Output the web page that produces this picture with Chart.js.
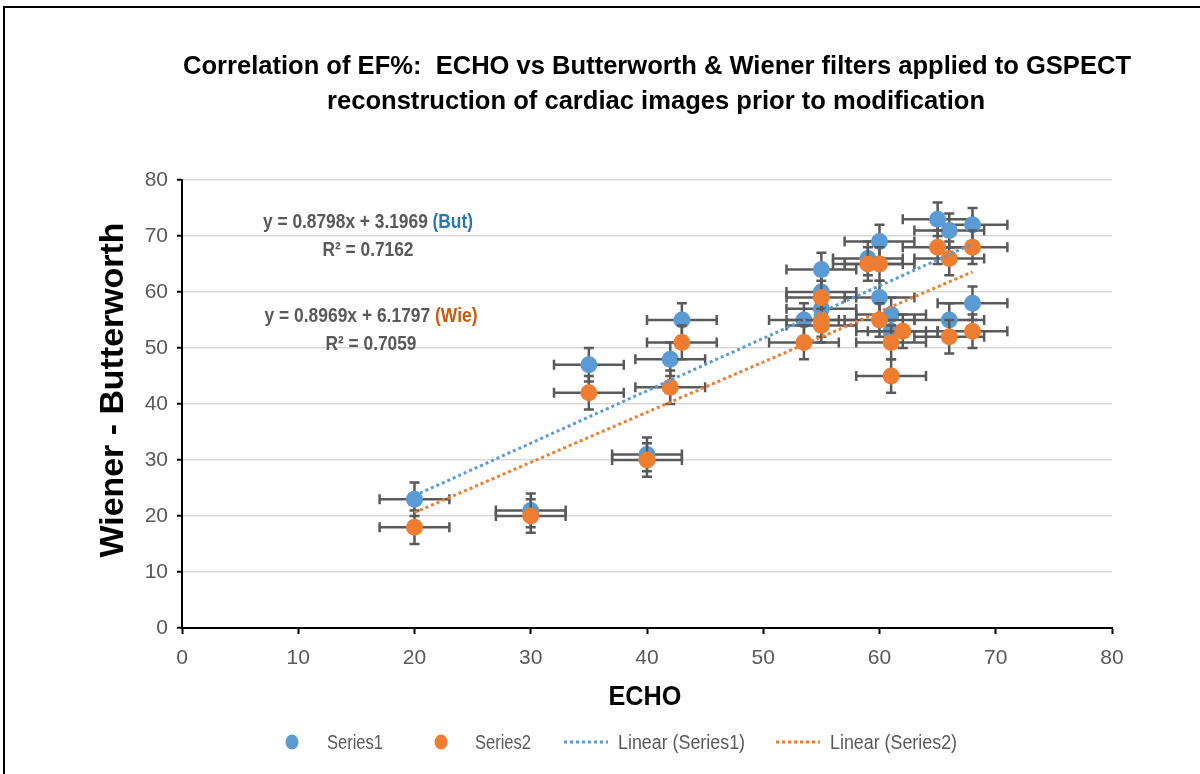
<!DOCTYPE html>
<html>
<head>
<meta charset="utf-8">
<script src="https://cdn.jsdelivr.net/npm/chart.js@4.4.0/dist/chart.umd.min.js"></script>
<style>
html, body { margin: 0; padding: 0; background: #fff; overflow: hidden; }
#wrap { position: relative; width: 1200px; height: 774px; }
#frame { position: absolute; left: 3px; top: 6px; width: 1300px; height: 900px; border: 2px solid #000; box-sizing: border-box; pointer-events: none; }
canvas { position: absolute; left: 0; top: 0; }
</style>
</head>
<body>
<div id="wrap"><canvas id="canvas" width="1200" height="774"></canvas><div id="frame"></div></div>
<script>
// ECHO vs Butterworth (Series1)
const echo1 = [20, 30, 35, 40, 42, 43, 53.5, 55, 55, 55, 59, 60, 60, 61, 61, 65, 66, 68, 66, 68];
const butter = [23, 21, 47, 31, 48, 55, 55, 64, 60, 57, 66, 69, 59, 56, 53, 73, 71, 72, 55, 58];
// ECHO vs Wiener (Series2)
const echo2 = [20, 30, 35, 40, 42, 43, 53.5, 55, 55, 55, 59, 60, 60, 61, 61, 62, 65, 66, 68, 66, 68];
const wiener = [18, 20, 42, 30, 43, 51, 51, 59, 55, 54, 65, 65, 55, 51, 45, 53, 68, 66, 68, 52, 53];
// fixed error amount on both axes
const errX = 3;
const errY = 3;

const titleLines = ['Correlation of EF%:  ECHO vs Butterworth & Wiener filters applied to GSPECT',
                    'reconstruction of cardiac images prior to modification'];
const eqBut = ['y = 0.8798x + 3.1969 ', '(But)'];
const r2But = 'R\u00B2 = 0.7162';
const eqWie = ['y = 0.8969x + 6.1797 ', '(Wie)'];
const r2Wie = 'R\u00B2 = 0.7059';
const legendNames = ['Series1', 'Series2', 'Linear (Series1)', 'Linear (Series2)'];

const BLUE = '#5b9bd5';
const ORANGE = '#ed7d31';
const GREY = '#595959';
const FONT = '"Liberation Sans", Arial, sans-serif';

const toPts = (xs, ys) => xs.map((v, i) => ({x: v, y: ys[i]}));

// least squares line over the data range, like Excel's linear trendline
function trend(xs, ys) {
    const n = xs.length;
    const mx = xs.reduce((a, b) => a + b, 0) / n;
    const my = ys.reduce((a, b) => a + b, 0) / n;
    let sxx = 0, sxy = 0;
    xs.forEach((v, i) => { sxx += (v - mx) * (v - mx); sxy += (v - mx) * (ys[i] - my); });
    const m = sxy / sxx, b = my - m * mx;
    const lo = Math.min(...xs), hi = Math.max(...xs);
    return [{x: lo, y: m * lo + b}, {x: hi, y: m * hi + b}];
}

// draw text squeezed to a given width (the original uses narrow fonts)
function drawParts(c, parts, cx, base, width, font) {
    c.save();
    c.font = font;
    c.textAlign = 'left';
    c.textBaseline = 'alphabetic';
    const total = parts.reduce((s, p) => s + c.measureText(p[0]).width, 0);
    c.translate(cx - width / 2, base);
    c.scale(width / total, 1);
    let xx = 0;
    parts.forEach(([t, col]) => { c.fillStyle = col; c.fillText(t, xx, 0); xx += c.measureText(t).width; });
    c.restore();
}

const errorBars = {
    id: 'errorBars',
    beforeDatasetDraw(chart, args) {
        const ds = chart.data.datasets[args.index];
        if (!ds.errorBars) return;
        const xs = chart.scales.x, ys = chart.scales.y;
        const c = chart.ctx;
        c.save();
        c.strokeStyle = GREY;
        c.lineWidth = 2.5;
        ds.data.forEach(p => {
            const px = xs.getPixelForValue(p.x), py = ys.getPixelForValue(p.y);
            const x0 = xs.getPixelForValue(p.x - errX), x1 = xs.getPixelForValue(p.x + errX);
            const y0 = ys.getPixelForValue(p.y - errY), y1 = ys.getPixelForValue(p.y + errY);
            c.beginPath();
            c.moveTo(x0, py); c.lineTo(x1, py);
            c.moveTo(x0, py - 5); c.lineTo(x0, py + 5);
            c.moveTo(x1, py - 5); c.lineTo(x1, py + 5);
            c.moveTo(px, y0); c.lineTo(px, y1);
            c.moveTo(px - 5, y0); c.lineTo(px + 5, y0);
            c.moveTo(px - 5, y1); c.lineTo(px + 5, y1);
            c.stroke();
        });
        c.restore();
    }
};

const texts = {
    id: 'texts',
    afterDraw(chart) {
        const c = chart.ctx;
        // title
        drawParts(c, [[titleLines[0], '#000']], 657, 74, 948, 'bold 25px ' + FONT);
        drawParts(c, [[titleLines[1], '#000']], 656, 109, 658, 'bold 25px ' + FONT);
        // axis titles
        c.save();
        c.translate(123, 390);
        c.rotate(-Math.PI / 2);
        drawParts(c, [['Wiener - Butterworth', '#000']], 0, 0, 335, 'bold 34px ' + FONT);
        c.restore();
        drawParts(c, [['ECHO', '#000']], 645, 705, 73, 'bold 28px ' + FONT);
        // trendline equations
        const ef = 'bold 21px ' + FONT;
        drawParts(c, [[eqBut[0], GREY], [eqBut[1], '#2e75b6']], 368, 228, 210, ef);
        drawParts(c, [[r2But, GREY]], 368, 256, 91, ef);
        drawParts(c, [[eqWie[0], GREY], [eqWie[1], '#c55a11']], 371, 322, 213, ef);
        drawParts(c, [[r2Wie, GREY]], 371, 350, 91, ef);
        // legend
        const ly = 742;
        const lf = '20px ' + FONT;
        c.save();
        c.fillStyle = BLUE;
        c.beginPath(); c.ellipse(292, ly, 6.5, 7.5, 0, 0, Math.PI * 2); c.fill();
        c.fillStyle = ORANGE;
        c.beginPath(); c.ellipse(441, ly, 6.5, 7.5, 0, 0, Math.PI * 2); c.fill();
        c.lineWidth = 3;
        c.setLineDash([3, 3]);
        c.strokeStyle = BLUE;
        c.beginPath(); c.moveTo(564, ly); c.lineTo(608, ly); c.stroke();
        c.strokeStyle = ORANGE;
        c.beginPath(); c.moveTo(776, ly); c.lineTo(820, ly); c.stroke();
        c.restore();
        drawParts(c, [[legendNames[0], GREY]], 327 + 28, ly + 7, 56, lf);
        drawParts(c, [[legendNames[1], GREY]], 475 + 28, ly + 7, 56, lf);
        drawParts(c, [[legendNames[2], GREY]], 618 + 63.5, ly + 7, 127, lf);
        drawParts(c, [[legendNames[3], GREY]], 830 + 63.5, ly + 7, 127, lf);
    }
};

Chart.defaults.font.family = FONT;

const ctx = document.getElementById('canvas').getContext('2d');
new Chart(ctx, {
    type: 'scatter',
    data: {
        datasets: [
            {
                label: legendNames[2], data: trend(echo1, butter), showLine: true,
                borderColor: BLUE, borderWidth: 3, borderDash: [3, 3], pointRadius: 0, order: 0
            },
            {
                label: legendNames[3], data: trend(echo2, wiener), showLine: true,
                borderColor: ORANGE, borderWidth: 3, borderDash: [3, 3], pointRadius: 0, order: 0
            },
            {
                label: legendNames[1], data: toPts(echo2, wiener), errorBars: true,
                backgroundColor: ORANGE, borderColor: ORANGE, pointRadius: 8.5, borderWidth: 0, order: 1
            },
            {
                label: legendNames[0], data: toPts(echo1, butter), errorBars: true,
                backgroundColor: BLUE, borderColor: BLUE, pointRadius: 8.5, borderWidth: 0, order: 2
            }
        ]
    },
    options: {
        responsive: false,
        animation: false,
        layout: { padding: { left: 0, top: 180, right: 88, bottom: 86 } },
        plugins: { legend: { display: false }, title: { display: false }, tooltip: { enabled: false } },
        scales: {
            x: {
                type: 'linear', min: 0, max: 80,
                ticks: { stepSize: 10, color: GREY, font: { size: 21 }, padding: 12 },
                grid: { drawOnChartArea: false, color: '#000', tickColor: '#000', tickLength: 6, tickWidth: 2 },
                border: { color: '#000', width: 2 },
                afterFit(s) { s.height = 60; }
            },
            y: {
                min: 0, max: 80,
                ticks: { stepSize: 10, color: GREY, font: { size: 21 }, padding: 9 },
                grid: { color: '#d9d9d9', lineWidth: 1.5, tickColor: '#000', tickLength: 5, tickWidth: 2 },
                border: { color: '#000', width: 2 },
                afterFit(s) { s.width = 182; }
            }
        }
    },
    plugins: [errorBars, texts]
});
</script>
</body>
</html>
